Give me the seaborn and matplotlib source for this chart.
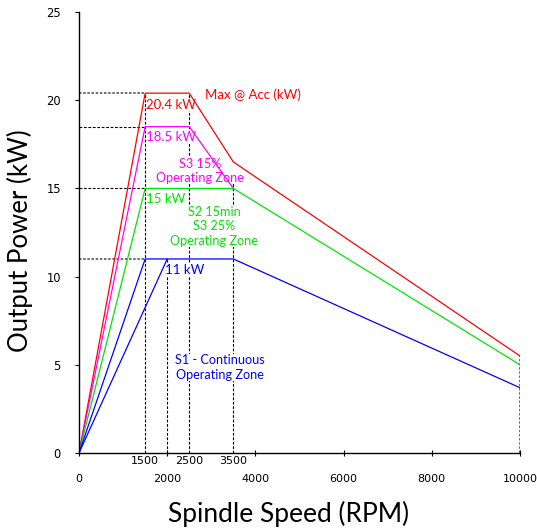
import numpy as np
import pandas as pd
import matplotlib
matplotlib.use("Agg")
import matplotlib.pyplot as plt
import seaborn as sns

# ---- data ----
rpm_max = [0, 1500, 2500, 3500, 10000]
kw_max = [0, 20.4, 20.4, 16.5, 5.5]
rpm_s3_15 = [0, 1500, 2500, 3500]
kw_s3_15 = [0, 18.5, 18.5, 15.0]
rpm_s2 = [0, 1500, 3500, 10000]
kw_s2 = [0, 15.0, 15.0, 5.0]
rpm_s1 = [0, 1500, 3500, 10000]
kw_s1 = [0, 11.0, 11.0, 3.7]
rpm_s1b = [0, 2000]
kw_s1b = [0, 11.0]

major_ticks = [0, 2000, 4000, 6000, 8000, 10000]
minor_ticks = [1500, 2500, 3500]
y_ticks = [0, 5, 10, 15, 20, 25]

RED, MAG, GRN, BLU = "#ff0000", "#ff00ff", "#00e600", "#0000ff"

sns.set_theme(style="white")
plt.rcParams['font.family'] = ['DejaVu Sans']
LBL_FONT = ['Lato', 'DejaVu Sans']

fig = plt.figure(figsize=(5.37, 5.30), dpi=100)
ax = fig.add_axes([79/537, 1-453/530, 441/537, 441/530])

# dashed guide lines
dash = dict(color="black", lw=0.8, ls=(0, (2.5, 1.5)), zorder=1)
dash_g = dict(color="#555555", lw=1.2, ls=(0, (1.5, 1)), zorder=1)
ax.vlines(rpm_max[1], 0, kw_max[1], **dash)
ax.vlines(rpm_s1b[1], 0, kw_s1b[1], **dash)
ax.vlines(rpm_max[2], 0, kw_max[2], **dash)
ax.vlines(rpm_max[3], 0, kw_max[3], **dash)
ax.vlines(rpm_max[4], 0, kw_max[4], **dash_g)
ax.hlines(kw_max[1], 0, rpm_max[1], **dash_g)
ax.hlines(kw_s3_15[1], 0, rpm_s3_15[1], **dash)
ax.hlines(kw_s2[1], 0, rpm_s2[1], **dash)
ax.hlines(kw_s1[1], 0, rpm_s1[1], **dash_g)

# main curves
for xs, ys, c in [(rpm_max, kw_max, RED), (rpm_s3_15, kw_s3_15, MAG),
                  (rpm_s2, kw_s2, GRN), (rpm_s1, kw_s1, BLU),
                  (rpm_s1b, kw_s1b, BLU)]:
    sns.lineplot(x=xs, y=ys, color=c, lw=0.9, sort=False, estimator=None,
                 ax=ax, zorder=3)

# annotations (white boxes hide the dashed guides, drawn under the curves)
bb = dict(facecolor="white", edgecolor="none", pad=0.3)
fs = 9.5
fs2 = 9.1
ls_ = 1.25
ax.text(3950, 20.3, "Max @ Acc (kW)", color=RED, fontsize=fs, family=LBL_FONT,
        ha="center", va="center", zorder=2)
ax.text(1530, 19.75, "20.4 kW", color=RED, fontsize=fs, family=LBL_FONT,
        ha="left", va="center", bbox=bb, zorder=2)
ax.text(1530, 17.9, "18.5 kW", color=MAG, fontsize=fs, family=LBL_FONT,
        ha="left", va="center", bbox=bb, zorder=2)
ax.text(2750, 16.0, "S3 15%\nOperating Zone", color=MAG, fontsize=fs2,
        family=LBL_FONT, ha="center", va="center", linespacing=ls_,
        bbox=bb, zorder=2)
ax.text(1530, 14.4, "15 kW", color=GRN, fontsize=fs, family=LBL_FONT,
        ha="left", va="center", bbox=bb, zorder=2)
ax.text(3070, 12.85, "S2 15min\nS3 25%\nOperating Zone", color=GRN,
        fontsize=fs2, family=LBL_FONT, ha="center", va="center",
        linespacing=ls_, bbox=bb, zorder=2)
ax.text(1960, 10.4, "11 kW", color=BLU, fontsize=fs, family=LBL_FONT,
        ha="left", va="center", bbox=bb, zorder=2)
ax.text(3200, 4.85, "S1 - Continuous\nOperating Zone", color=BLU,
        fontsize=fs2, family=LBL_FONT, ha="center", va="center",
        linespacing=ls_, bbox=bb, zorder=2)

# axes
ax.set_xlim(0, 10000)
ax.set_ylim(0, 25)
for s in ["top", "right"]:
    ax.spines[s].set_visible(False)
for s in ["left", "bottom"]:
    ax.spines[s].set_color("black")
    ax.spines[s].set_linewidth(1.0)
    ax.spines[s].set_zorder(5)
ax.set_xticks(major_ticks)
ax.set_xticklabels([str(t) for t in major_ticks])
ax.set_xticks(minor_ticks, minor=True)
ax.set_xticklabels([str(t) for t in minor_ticks], minor=True)
ax.set_yticks(y_ticks)
ax.set_yticklabels([str(t) for t in y_ticks])
ax.tick_params(axis="x", which="major", direction="inout", length=4, width=0.8,
               pad=13, labelsize=8, colors="black", bottom=True)
ax.tick_params(axis="x", which="minor", length=0, pad=2.5, labelsize=8,
               labelcolor="black", bottom=True)
ax.tick_params(axis="y", direction="out", length=3, width=0.8, pad=10,
               labelsize=8.3, colors="black", left=True)
ax.grid(False)

ax.set_xlabel("Spindle Speed (RPM)", fontsize=19, family=LBL_FONT, color="black")
ax.set_ylabel("Output Power (kW)", fontsize=18.5, family=LBL_FONT, color="black")
ax.xaxis.set_label_coords((289-79)/441, -(514-453)/441)
ax.yaxis.set_label_coords(-(79-20)/441, (453-241)/441)
ax.xaxis.label.set_va("center")
ax.yaxis.label.set_va("center")

fig.savefig("out.png", dpi=100)
